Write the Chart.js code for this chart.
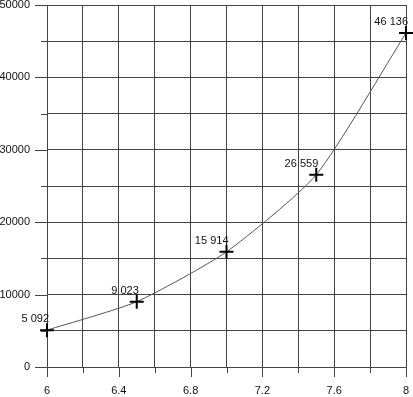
<!DOCTYPE html>
<html>
<head>
<meta charset="utf-8">
<script src="https://cdn.jsdelivr.net/npm/chart.js@4"></script>
<style>
  html, body { margin: 0; padding: 0; background: #fff; }
</style>
</head>
<body>
<canvas id="chart" width="413" height="397"></canvas>
<script>
const xValues = [6, 6.5, 7, 7.5, 8];
const yValues = [5092, 9023, 15914, 26559, 46136];
const pointLabels = ["5 092", "9 023", "15 914", "26 559", "46 136"];

const FONT = "Liberation Sans, Arial, sans-serif";

// tick marks: long ones at labelled values, short ones between
const tickMarks = {
  id: "tickMarks",
  afterDraw(chart) {
    const c = chart.ctx, xs = chart.scales.x, ys = chart.scales.y;
    c.save();
    c.strokeStyle = "#444";
    c.lineWidth = 1;
    ys.ticks.forEach((t) => {
      const y = Math.round(ys.getPixelForValue(t.value)) + 0.5;
      const len = t.value % 10000 === 0 ? 12 : 6;
      c.beginPath();
      c.moveTo(xs.left - len, y);
      c.lineTo(xs.left, y);
      c.stroke();
    });
    xs.ticks.forEach((t) => {
      const x = Math.round(xs.getPixelForValue(t.value)) + 0.5;
      const major = Math.abs(Math.round(t.value * 10) % 4) === 0;
      c.beginPath();
      c.moveTo(x, ys.bottom);
      c.lineTo(x, ys.bottom + (major ? 10 : 6));
      c.stroke();
    });
    c.restore();
  },
};

const valueLabels = {
  id: "valueLabels",
  afterDatasetsDraw(chart) {
    const c = chart.ctx;
    const meta = chart.getDatasetMeta(0);
    c.save();
    c.font = "11px " + FONT;
    c.fillStyle = "#111";
    c.textAlign = "right";
    c.textBaseline = "alphabetic";
    meta.data.forEach((p, i) => {
      c.fillText(pointLabels[i], p.x + 2, p.y - 8);
    });
    c.restore();
  },
};

new Chart(document.getElementById("chart"), {
  type: "line",
  data: {
    datasets: [
      {
        data: xValues.map((x, i) => ({ x: x, y: yValues[i] })),
        borderColor: "#555",
        borderWidth: 1,
        tension: 0.2,
        clip: false,
        pointStyle: "cross",
        pointRadius: 7,
        pointBorderWidth: 2,
        pointBorderColor: "#000",
        pointBackgroundColor: "#000",
        fill: false,
      },
    ],
  },
  options: {
    responsive: false,
    animation: false,
    layout: { autoPadding: false, padding: { left: 0, right: 7, top: 5, bottom: 0 } },
    plugins: { legend: { display: false }, tooltip: { enabled: false } },
    scales: {
      x: {
        type: "linear",
        min: 6,
        max: 8,
        afterFit(s) {
          s.height = 30;
          s.paddingLeft = 0;
          s.paddingRight = 0;
        },
        border: { display: false },
        grid: { color: "#444", lineWidth: 1, drawTicks: false },
        ticks: {
          stepSize: 0.2,
          padding: 17,
          color: "#111",
          font: { family: FONT, size: 11 },
          maxRotation: 0,
          autoSkip: false,
          callback: (v) => (Math.abs(Math.round(v * 10) % 4) === 0 ? String(Math.round(v * 10) / 10) : ""),
        },
      },
      y: {
        min: 0,
        max: 50000,
        afterFit(s) {
          s.width = 47;
          s.paddingTop = 0;
          s.paddingBottom = 0;
        },
        border: { display: false },
        grid: { color: "#444", lineWidth: 1, drawTicks: false },
        ticks: {
          stepSize: 5000,
          padding: 17,
          color: "#111",
          font: { family: FONT, size: 11 },
          autoSkip: false,
          callback: (v) => (v % 10000 === 0 ? String(v) : ""),
        },
      },
    },
  },
  plugins: [tickMarks, valueLabels],
});
</script>
</body>
</html>
